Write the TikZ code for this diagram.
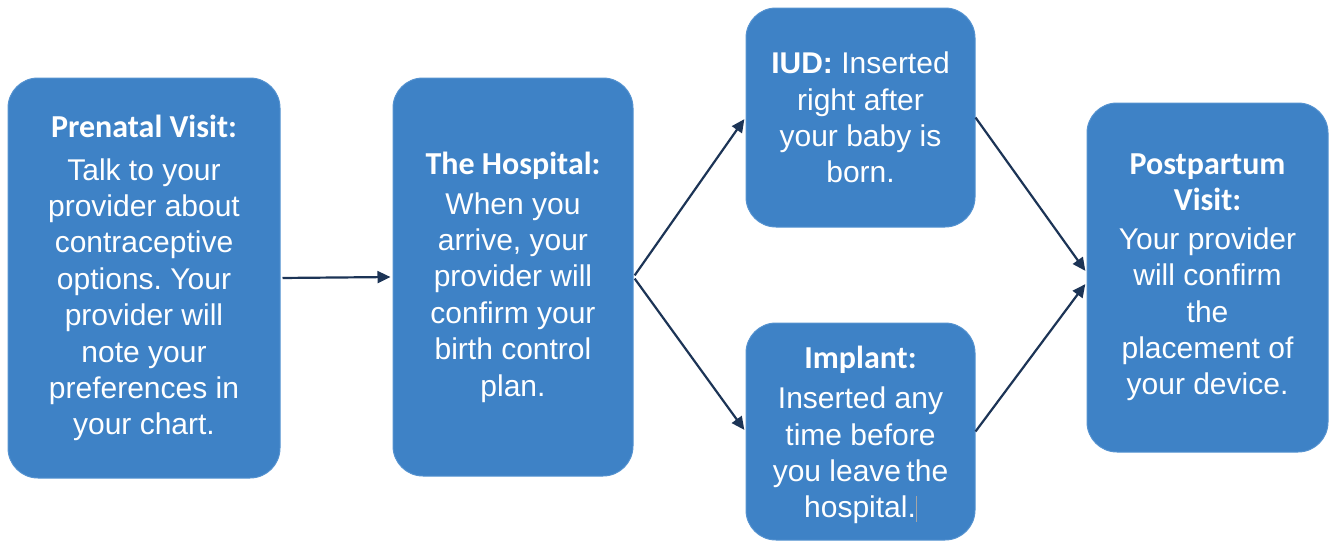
\documentclass[tikz,border=0pt]{standalone}
\usepackage{fontspec}
\setmainfont{Liberation Sans}
\newfontfamily\headfont{Carlito}
\usetikzlibrary{arrows.meta}
\frenchspacing
\definecolor{boxblue}{RGB}{62,130,198}
\definecolor{boxedge}{RGB}{84,146,208}
\definecolor{arrownavy}{RGB}{28,52,86}
\newcommand{\hd}[1]{{\headfont\bfseries\fontsize{32}{37}\selectfont #1}}
\tikzset{
  stepbox/.style={rounded corners=30pt, fill=boxblue, draw=boxedge, line width=1pt,
    text=white, align=center, inner sep=0pt,
    font=\fontsize{30}{36.4}\selectfont},
  flow/.style={draw=arrownavy, line width=2.2pt,
    -{Triangle[length=13pt,width=12pt]}, shorten >=2pt}
}
\begin{document}
\begin{tikzpicture}[x=1pt,y=-1pt]
\useasboundingbox (0,0) rectangle (1332,546);

% main stages
\node[stepbox, minimum width=272pt, minimum height=400pt] (pre) at (144,278)
  {\hd{Prenatal Visit:}\\[6.5pt]Talk to your\\provider about\\contraceptive\\options. Your\\provider will\\note your\\preferences in\\your chart.};
\node[stepbox, minimum width=240pt, minimum height=398pt] (hosp) at (513,277)
  {\hd{The Hospital:}\\[3.5pt]When you\\arrive, your\\provider will\\confirm your\\birth control\\plan.};

% device options
\node[stepbox, minimum width=229pt, minimum height=219pt] (iud) at (860.5,117.5)
  {\textbf{IUD:} Inserted\\right after\\your baby is\\born.};
\node[stepbox, minimum width=229pt, minimum height=217pt] (impl) at (860.5,431.5)
  {\rule{0pt}{30pt}\hd{Implant:}\\[3.5pt]Inserted any\\time before\\you leave\hspace{-3pt} the\\hospital.\textcolor{gray!70}{\rule[-4pt]{1pt}{26pt}}};

% follow-up
\node[stepbox, minimum width=241pt, minimum height=349pt] (post) at (1207.5,277.5)
  {\hd{Postpartum}\\\hd{Visit:}\\[2pt]Your provider\\will confirm\\the\\placement of\\your device.};

% connectors
\draw[flow, shorten <=2pt] (pre.east) -- (hosp.west);
\draw[flow, shorten <=2pt] (hosp.east) -- (iud.west);
\draw[flow, shorten <=2pt] (hosp.east) -- (impl.west);
\draw[flow] (iud.east) -- ([yshift=5pt]post.west);
\draw[flow] (impl.east) -- ([yshift=-5pt]post.west);
\end{tikzpicture}
\end{document}
